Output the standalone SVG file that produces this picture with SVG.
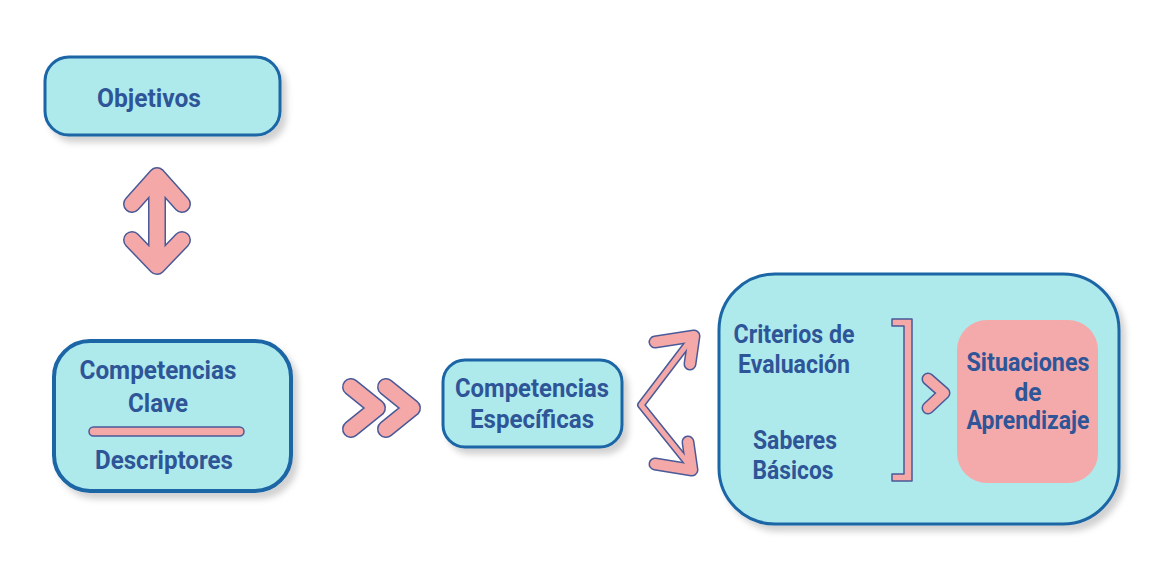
<svg xmlns="http://www.w3.org/2000/svg" width="1160" height="580" viewBox="0 0 1160 580">
<defs>
<filter id="sh" x="-10%" y="-10%" width="125%" height="130%">
<feDropShadow dx="5" dy="6" stdDeviation="3" flood-color="#000" flood-opacity="0.18"/>
</filter>
<style>
.box{fill:#aee9ec;stroke:#1a66a6;filter:url(#sh)}
.t{font-family:Roboto,"Liberation Sans",sans-serif;font-weight:700;font-size:26px;fill:#2e5597;text-anchor:middle}
.ol{fill:none;stroke:#4a5a98;stroke-linecap:round;stroke-linejoin:round}
.pk{fill:none;stroke:#f4a9a8;stroke-linecap:round;stroke-linejoin:round}
.pkf{fill:#f4a9a8;stroke:#4a5a98;stroke-width:1.5}
</style>
</defs>
<rect width="1160" height="580" fill="#ffffff"/>

<g id="objetivos">
<rect class="box" x="45" y="57" width="235" height="78" rx="24" stroke-width="3"/>
<text class="t" x="149" y="107" textLength="104" lengthAdjust="spacingAndGlyphs">Objetivos</text>
</g>

<g id="competencias-clave">
<rect class="box" x="54" y="341" width="237" height="150" rx="36" stroke-width="4"/>
<text class="t" x="158" y="379" textLength="157" lengthAdjust="spacingAndGlyphs">Competencias</text>
<text class="t" x="158" y="412" textLength="60" lengthAdjust="spacingAndGlyphs">Clave</text>
<rect x="89" y="427" width="155" height="9" rx="4.5" class="pkf"/>
<text class="t" x="164" y="469" textLength="138" lengthAdjust="spacingAndGlyphs">Descriptores</text>
</g>

<g id="competencias-especificas">
<rect class="box" x="443" y="360" width="179" height="87" rx="22" stroke-width="3"/>
<text class="t" x="532" y="397" textLength="154" lengthAdjust="spacingAndGlyphs">Competencias</text>
<text class="t" x="532" y="428" textLength="124" lengthAdjust="spacingAndGlyphs">Específicas</text>
</g>

<g id="contenedor">
<rect class="box" x="719" y="274" width="400" height="250" rx="56" stroke-width="3"/>
<text class="t" x="794" y="343" textLength="121" lengthAdjust="spacingAndGlyphs">Criterios de</text>
<text class="t" x="794" y="373" textLength="112" lengthAdjust="spacingAndGlyphs">Evaluación</text>
<text class="t" x="795" y="449" textLength="84" lengthAdjust="spacingAndGlyphs">Saberes</text>
<text class="t" x="793" y="479" textLength="81" lengthAdjust="spacingAndGlyphs">Básicos</text>
</g>

<g id="situaciones">
<rect x="957" y="320" width="141" height="163" rx="30" fill="#f4aaaa"/>
<text class="t" x="1028" y="371" textLength="123" lengthAdjust="spacingAndGlyphs">Situaciones</text>
<text class="t" x="1028" y="401" textLength="27" lengthAdjust="spacingAndGlyphs">de</text>
<text class="t" x="1028" y="429" textLength="123" lengthAdjust="spacingAndGlyphs">Aprendizaje</text>
</g>

<g id="connectors">
<g>
<path class="ol" stroke-width="18" d="M157,178 V264 M132,204 L157,176 L182,204 M132,240 L157,266 L182,240"/>
<path class="pk" stroke-width="15" d="M157,178 V264 M132,204 L157,176 L182,204 M132,240 L157,266 L182,240"/>
</g>
<g>
<path class="ol" stroke-width="18" d="M351,387 L377,408 L351,429 M386,387 L412,408 L386,429"/>
<path class="pk" stroke-width="15" d="M351,387 L377,408 L351,429 M386,387 L412,408 L386,429"/>
</g>
<g>
<path class="ol" stroke-width="8" d="M692,338 L641,405 L690,466"/>
<path class="ol" stroke-width="13" d="M655,342 L694,336 L690,364 M655,464 L692,470 L688,442"/>
<path class="pk" stroke-width="5" d="M692,338 L641,405 L690,466"/>
<path class="pk" stroke-width="10" d="M655,342 L694,336 L690,364 M655,464 L692,470 L688,442"/>
</g>
<path class="pkf" d="M892,319 H912 V481 H892 V474 H904 V326 H892 Z" stroke-linejoin="round"/>
<g>
<path class="ol" stroke-width="13" d="M928,379 L944,393 L928,408"/>
<path class="pk" stroke-width="10" d="M928,379 L944,393 L928,408"/>
</g>
</g>
</svg>
